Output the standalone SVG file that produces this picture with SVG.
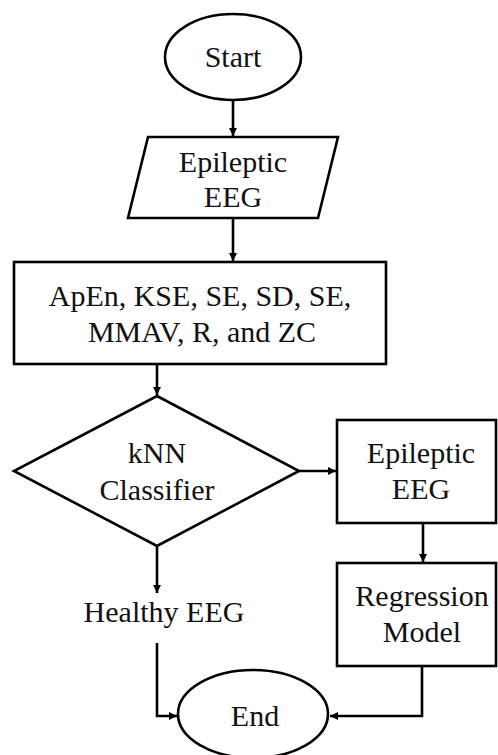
<svg xmlns="http://www.w3.org/2000/svg" width="498" height="755" viewBox="0 0 498 755">
  <style>
    .shape { fill: #ffffff; stroke: #000000; stroke-width: 2.6; }
    .label { font-family: 'Liberation Serif', 'Tinos', 'DejaVu Serif', serif; font-size: 30px; fill: #111111; text-anchor: middle; }
    .link { fill: none; stroke: #000000; stroke-width: 2.6; }
  </style>
  <defs>
    <marker id="arrow" markerUnits="userSpaceOnUse" markerWidth="10" markerHeight="10" refX="8" refY="4" orient="auto">
      <path d="M0,0 L8,4 L0,8 Z" fill="#000000"/>
    </marker>
  </defs>
  <rect width="498" height="755" fill="#ffffff"/>

  <g id="connectors">
    <line class="link" x1="233" y1="100" x2="233" y2="136" marker-end="url(#arrow)"/>
    <line class="link" x1="233" y1="218" x2="233" y2="261" marker-end="url(#arrow)"/>
    <line class="link" x1="157" y1="364" x2="157" y2="395" marker-end="url(#arrow)"/>
    <line class="link" x1="299" y1="471" x2="336" y2="471" marker-end="url(#arrow)"/>
    <line class="link" x1="423" y1="523" x2="423" y2="562" marker-end="url(#arrow)"/>
    <line class="link" x1="157" y1="546" x2="157" y2="593" marker-end="url(#arrow)"/>
    <polyline class="link" points="157,643 157,716 177,716" marker-end="url(#arrow)"/>
    <polyline class="link" points="422,666 422,716 330,716" marker-end="url(#arrow)"/>
  </g>

  <g id="start">
    <ellipse class="shape" cx="233" cy="57" rx="68" ry="43"/>
    <text class="label" x="233" y="67">Start</text>
  </g>

  <g id="input-eeg">
    <polygon class="shape" points="148,137 338,137 318,218 128,218"/>
    <text class="label" x="233" y="172">Epileptic</text>
    <text class="label" x="233" y="207">EEG</text>
  </g>

  <g id="features">
    <rect class="shape" x="14" y="262" width="372" height="102"/>
    <text class="label" x="200" y="306">ApEn, KSE, SE, SD, SE,</text>
    <text class="label" x="202" y="342">MMAV, R, and ZC</text>
  </g>

  <g id="classifier">
    <polygon class="shape" points="157,396 299,471 157,546 14,471"/>
    <text class="label" x="157" y="463">kNN</text>
    <text class="label" x="157" y="500">Classifier</text>
  </g>

  <g id="epileptic-eeg">
    <rect class="shape" x="337" y="420" width="159" height="103"/>
    <text class="label" x="421" y="463">Epileptic</text>
    <text class="label" x="421" y="499">EEG</text>
  </g>

  <g id="regression">
    <rect class="shape" x="337" y="563" width="159" height="103"/>
    <text class="label" x="422" y="606">Regression</text>
    <text class="label" x="422" y="642">Model</text>
  </g>

  <g id="healthy-eeg">
    <text class="label" x="164" y="622">Healthy EEG</text>
  </g>

  <g id="end">
    <ellipse class="shape" cx="253" cy="714" rx="75" ry="44"/>
    <text class="label" x="255" y="726">End</text>
  </g>
</svg>
